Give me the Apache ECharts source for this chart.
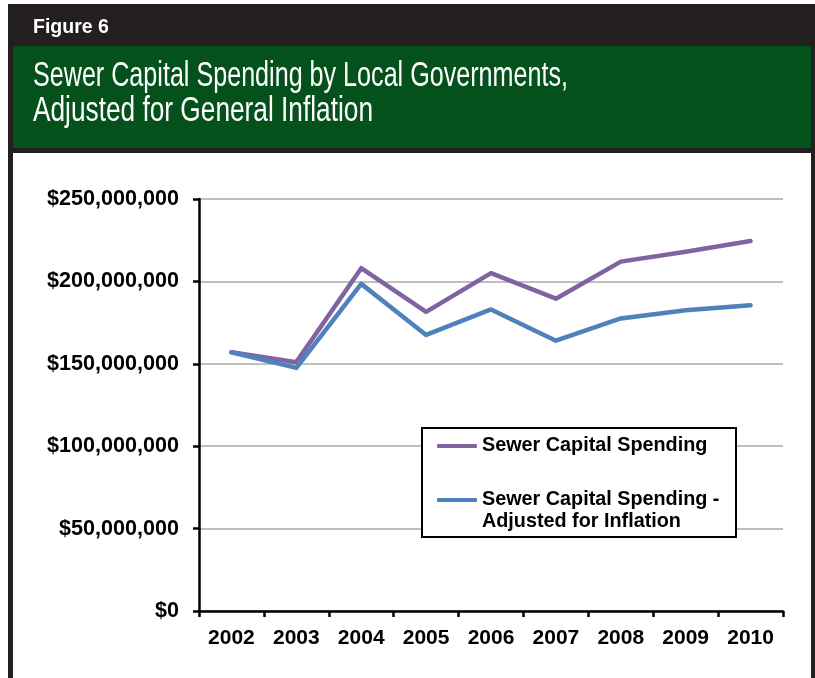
<!DOCTYPE html>
<html>
<head>
<meta charset="utf-8">
<script src="https://cdn.jsdelivr.net/npm/echarts@6/dist/echarts.min.js"></script>
<style>
  html, body { margin: 0; padding: 0; background: #ffffff; }
  #chart { width: 815px; height: 678px; }
</style>
</head>
<body>
<div id="chart"></div>
<script>
// Years on the category axis
const years = ['2002', '2003', '2004', '2005', '2006', '2007', '2008', '2009', '2010'];

// Sewer capital spending by local governments, dollars
const spendingNominal = [157000000, 151000000, 208000000, 181500000, 205000000, 189500000, 212000000, 218000000, 224500000];

// Same spending adjusted for general inflation, dollars
const spendingAdjusted = [157000000, 147500000, 198500000, 167500000, 183000000, 164000000, 177500000, 182500000, 185500000];

// Value axis ticks
const yTicks = [0, 50000000, 100000000, 150000000, 200000000, 250000000];

const seriesNames = ['Sewer Capital Spending', 'Sewer Capital Spending - Adjusted for Inflation'];
const figureLabel = 'Figure 6';
const titleLines = ['Sewer Capital Spending by Local Governments,', 'Adjusted for General Inflation'];

const FRAME = '#231f20';
const GREEN = '#05511b';
const PURPLE = '#8064a2';
const BLUE = '#4f81bd';
const FONT = '"Liberation Sans", Arial, sans-serif';

function dollars(v) {
  return '$' + String(Math.round(v)).replace(/\B(?=(\d{3})+(?!\d))/g, ',');
}

const chart = echarts.init(document.getElementById('chart'), null, { renderer: 'canvas' });

const legendText = {
  color: '#000000', fontFamily: FONT, fontWeight: 'bold', fontSize: 19.8, lineHeight: 22
};

chart.setOption({
  backgroundColor: '#ffffff',
  animation: false,
  grid: { left: 199, right: 32, top: 199, bottom: 67, containLabel: false },
  xAxis: {
    type: 'category',
    data: years,
    boundaryGap: true,
    axisLine: { lineStyle: { color: '#000000', width: 2.5 } },
    axisTick: { show: true, length: 6, inside: false, interval: 0, lineStyle: { color: '#000000', width: 2.5 } },
    axisLabel: { color: '#000000', fontFamily: FONT, fontWeight: 'bold', fontSize: 21, margin: 17, interval: 0 },
    splitLine: { show: false }
  },
  yAxis: {
    type: 'value',
    min: yTicks[0],
    max: yTicks[yTicks.length - 1],
    interval: yTicks[1] - yTicks[0],
    axisLine: { show: true, lineStyle: { color: '#000000', width: 2.5 } },
    axisTick: { show: true, length: 6, inside: false, lineStyle: { color: '#000000', width: 2.5 } },
    axisLabel: { color: '#000000', fontFamily: FONT, fontWeight: 'bold', fontSize: 21.6, margin: 20, formatter: dollars },
    splitLine: { show: true, lineStyle: { color: '#bfbfbf', width: 2 } }
  },
  legend: [
    {
      data: [seriesNames[0]],
      left: 437, top: 435, padding: 0, z: 10,
      icon: 'roundRect', itemWidth: 40, itemHeight: 4,
      selectedMode: false,
      textStyle: legendText
    },
    {
      data: [seriesNames[1]],
      left: 437, top: 467, padding: 0, z: 10,
      icon: 'roundRect', itemWidth: 40, itemHeight: 4,
      selectedMode: false,
      // empty first line keeps the swatch level with the first line of the name
      formatter: function () { return ' \nSewer Capital Spending -\nAdjusted for Inflation'; },
      textStyle: legendText
    }
  ],
  series: [
    {
      name: seriesNames[0], type: 'line', data: spendingNominal,
      showSymbol: false, symbol: 'none', z: 2,
      color: PURPLE, lineStyle: { color: PURPLE, width: 4.5, join: 'round', cap: 'round' }
    },
    {
      name: seriesNames[1], type: 'line', data: spendingAdjusted,
      showSymbol: false, symbol: 'none', z: 3,
      color: BLUE, lineStyle: { color: BLUE, width: 4.5, join: 'round', cap: 'round' }
    }
  ],
  graphic: [
    // dark outer frame with the figure tab
    { type: 'rect', z: -10, silent: true, shape: { x: 8, y: 4, width: 807, height: 674 }, style: { fill: FRAME } },
    // green title band
    { type: 'rect', z: -9, silent: true, shape: { x: 13, y: 46, width: 798, height: 102 }, style: { fill: GREEN } },
    // white chart panel
    { type: 'rect', z: -9, silent: true, shape: { x: 13, y: 153, width: 798, height: 530 }, style: { fill: '#ffffff' } },
    {
      type: 'text', z: 5, silent: true, x: 33, y: 17.5,
      style: { text: figureLabel, fill: '#ffffff', font: 'bold 19.5px ' + FONT, verticalAlign: 'top' }
    },
    {
      type: 'text', z: 5, silent: true, x: 33, y: 58.5, scaleX: 0.718,
      style: { text: titleLines[0], fill: '#ffffff', font: '35px ' + FONT, verticalAlign: 'top' }
    },
    {
      type: 'text', z: 5, silent: true, x: 33, y: 94, scaleX: 0.75,
      style: { text: titleLines[1], fill: '#ffffff', font: '35px ' + FONT, verticalAlign: 'top' }
    },
    // legend frame
    {
      type: 'rect', z: 3, silent: true,
      shape: { x: 422, y: 428, width: 314, height: 109 },
      style: { fill: '#ffffff', stroke: '#000000', lineWidth: 2 }
    }
  ]
});
</script>
</body>
</html>
